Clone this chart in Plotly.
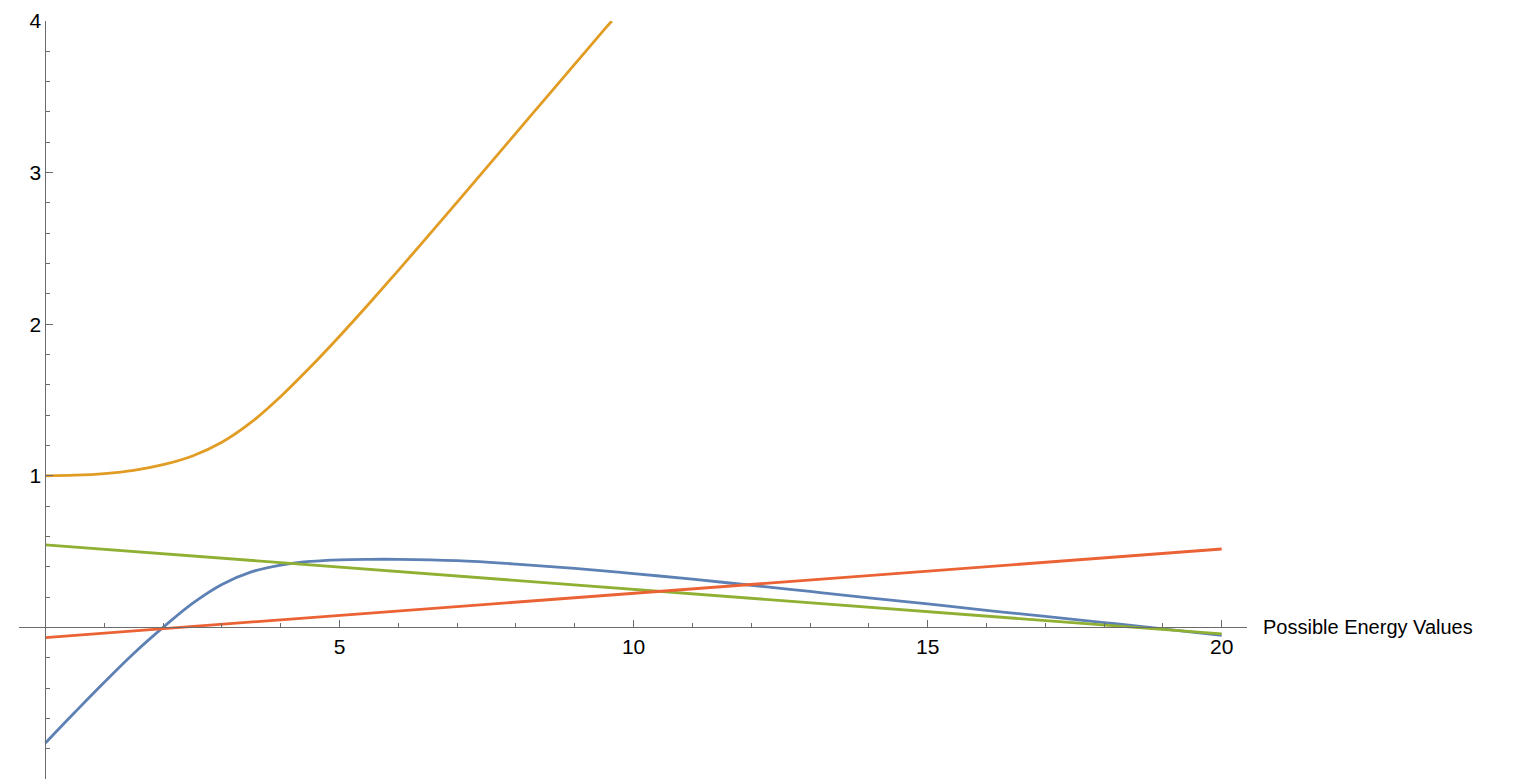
import plotly.graph_objects as go

# samples (x = energy value)
blue_x = [0, 0.5, 1, 1.5, 2, 2.5, 3, 3.5, 4, 4.5, 5, 5.5, 6, 7, 8, 9, 10,
          11, 12, 13, 14, 15, 16, 17, 18, 19, 20]
blue_y = [-0.762, -0.56, -0.362, -0.172, 0.0, 0.158, 0.283, 0.366, 0.411, 0.435,
          0.446, 0.449, 0.449, 0.44, 0.418, 0.39, 0.355, 0.318, 0.278, 0.237,
          0.195, 0.155, 0.113, 0.072, 0.032, -0.01, -0.052]

orange_x = [0, 0.5, 1, 1.5, 2, 2.5, 3, 3.5, 4, 4.5, 5, 5.5, 6, 6.5, 7, 7.5,
            8, 8.5, 9, 9.5, 9.63]
orange_y = [1.0, 1.004, 1.015, 1.036, 1.0735, 1.131, 1.221, 1.3535, 1.5235, 1.716,
            1.921, 2.135, 2.355, 2.579, 2.8055, 3.033, 3.2605, 3.488, 3.7155, 3.943, 4.0]

green_x = [0, 20]
green_y = [0.545, -0.043]

red_x = [0, 20]
red_y = [-0.067, 0.517]

x_ticks = [5, 10, 15, 20]
y_ticks = [-1, 1, 2, 3, 4]
x_title = "Possible Energy Values"

X_RANGE = [-0.45, 20.43]
Y_RANGE = [-1, 4]
AXIS_COLOR = "#6b6b6b"
FONT = "Liberation Sans, Arial, sans-serif"

x_minor = [v for v in range(1, 20) if v % 5]
y_minor = [round(-1 + 0.2 * i, 1) for i in range(1, 25) if i % 5]

fig = go.Figure()
for xs, ys, color in [
    (blue_x, blue_y, "#5E81B5"),
    (orange_x, orange_y, "#E19C24"),
    (green_x, green_y, "#8FB032"),
    (red_x, red_y, "#EB6235"),
]:
    fig.add_trace(go.Scatter(x=xs, y=ys, mode="lines",
                             line=dict(color=color, width=2.8, shape="spline", smoothing=1.0),
                             showlegend=False, hoverinfo="skip"))

axis_common = dict(showgrid=False, zeroline=False, showline=True, linecolor=AXIS_COLOR,
                   linewidth=1, ticks="inside", ticklen=7, tickcolor=AXIS_COLOR,
                   tickfont=dict(family=FONT, size=21, color="black"),
                   anchor="free", automargin=False)

# the page body adds an 8px offset, so the figure is 8px smaller and margins shifted
fig.update_layout(
    width=1517, height=776,
    margin=dict(l=11, r=278, t=13, b=5),
    paper_bgcolor="white", plot_bgcolor="white",
    xaxis=dict(range=X_RANGE, tickmode="array", tickvals=x_ticks,
               position=(0 - Y_RANGE[0]) / (Y_RANGE[1] - Y_RANGE[0]),
               minor=dict(tickmode="array", tickvals=x_minor, ticks="inside",
                          ticklen=4, tickcolor=AXIS_COLOR),
               **axis_common),
    yaxis=dict(range=Y_RANGE, tickmode="array", tickvals=y_ticks,
               position=(0 - X_RANGE[0]) / (X_RANGE[1] - X_RANGE[0]),
               minor=dict(tickmode="array", tickvals=y_minor, ticks="inside",
                          ticklen=4, tickcolor=AXIS_COLOR),
               **axis_common),
    annotations=[dict(text=x_title, xref="paper", x=1, xanchor="left", xshift=14,
                      yref="y", y=0, yanchor="middle", showarrow=False,
                      font=dict(family=FONT, size=20, color="black"))],
)

fig.write_html("out.html")
